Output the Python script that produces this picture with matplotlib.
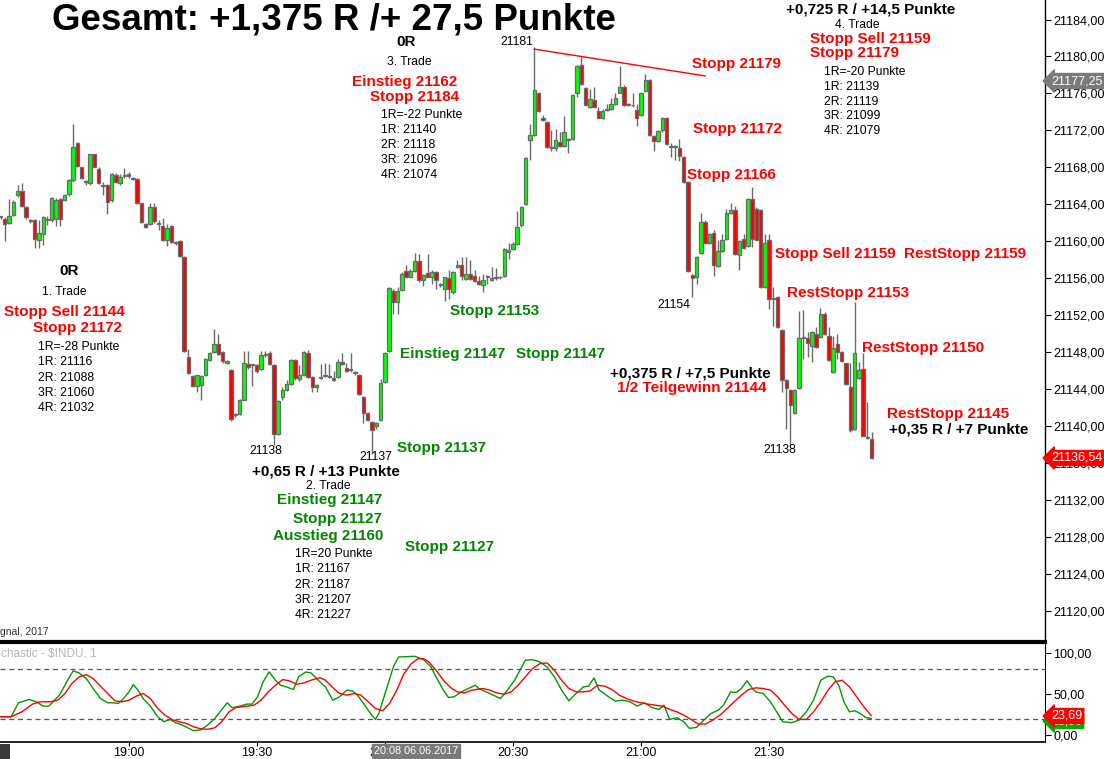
import matplotlib.pyplot as plt
from matplotlib.patches import Rectangle
import numpy as np

plt.rcParams['font.family'] = ['Liberation Sans', 'DejaVu Sans']

W, H = 1104, 759

# 1-Minuten-Kerzen $INDU ab 18:30 (Bar-Index 0)
opens = [21162.6, 21162.4, 21162.0, 21162.9, 21165.0, 21165.4, 21163.7, 21162.2, 21162.3, 21160.2,
         21160.8, 21162.3, 21162.3, 21162.4, 21164.6, 21164.5, 21165.1, 21166.6, 21170.6, 21168.0,
         21166.4, 21166.3, 21169.4, 21167.8, 21166.1, 21166.1, 21164.5, 21167.2, 21166.3, 21167.1,
         21167.3, 21166.8, 21166.7, 21164.1, 21161.9, 21161.9, 21163.7, 21161.9, 21161.7, 21160.1,
         21161.7, 21159.8, 21160.0, 21158.3, 21147.5, 21145.4, 21144.4, 21144.5, 21145.5, 21147.2,
         21148.0, 21148.9, 21148.0, 21146.9, 21146.1, 21141.2, 21141.3, 21142.9, 21146.7, 21146.6,
         21146.6, 21146.2, 21147.7, 21147.9, 21146.6, 21139.2, 21143.2, 21143.9, 21144.6, 21147.2,
         21145.1, 21145.5, 21147.9, 21145.3, 21144.2, 21145.2, 21145.4, 21145.3, 21145.2, 21145.3,
         21147.0, 21146.3, 21146.1, 21145.8, 21145.6, 21143.2, 21141.4, 21140.5, 21140.0, 21140.7,
         21144.8, 21148.2, 21154.6, 21153.5, 21154.7, 21156.8, 21156.2, 21156.8, 21157.9, 21155.8,
         21156.6, 21156.2, 21156.7, 21155.3, 21154.8, 21156.0, 21154.5, 21157.2, 21157.4, 21155.9,
         21156.5, 21156.3, 21155.7, 21155.3, 21156.1, 21155.8, 21156.0, 21156.1, 21156.3, 21158.8,
         21159.2, 21159.7, 21161.8, 21164.0, 21171.0, 21171.5, 21176.1, 21173.4, 21172.9, 21170.1,
         21170.1, 21170.8, 21170.3, 21171.0, 21171.1, 21176.0, 21179.1, 21176.6, 21174.5, 21175.3,
         21174.1, 21173.3, 21174.2, 21174.3, 21174.9, 21176.1, 21176.7, 21174.8, 21174.7, 21174.2,
         21173.7, 21176.3, 21177.5, 21171.4, 21170.9, 21172.0, 21173.4, 21170.3, 21170.2, 21170.1,
         21169.1, 21166.4, 21156.4, 21156.2, 21158.7, 21162.1, 21159.8, 21160.9, 21157.3, 21159.0,
         21160.3, 21163.1, 21163.4, 21158.5, 21160.3, 21159.5, 21164.6, 21163.5, 21163.4, 21155.1,
         21160.2, 21153.8, 21154.0, 21150.4, 21145.0, 21143.9, 21141.4, 21144.1, 21149.6, 21149.6,
         21148.7, 21150.0, 21149.7, 21152.1, 21149.8, 21145.9, 21148.9, 21148.0, 21146.8, 21144.3,
         21139.7, 21145.2, 21146.2, 21138.8, 21138.6]
highs = [21162.8, 21162.6, 21164.6, 21164.5, 21166.1, 21166.3, 21163.8, 21162.4, 21162.4, 21162.3,
         21162.7, 21162.7, 21164.8, 21164.7, 21164.7, 21165.1, 21166.7, 21172.7, 21170.8, 21168.1,
         21166.6, 21169.5, 21169.5, 21168.0, 21166.4, 21166.2, 21167.4, 21167.4, 21167.3, 21167.9,
         21167.5, 21167.0, 21166.9, 21164.2, 21162.0, 21164.1, 21164.1, 21162.3, 21162.5, 21161.9,
         21161.8, 21160.0, 21160.2, 21158.4, 21148.4, 21145.5, 21145.6, 21145.5, 21147.4, 21148.0,
         21150.5, 21150.0, 21148.2, 21147.2, 21146.2, 21141.4, 21143.0, 21148.2, 21148.2, 21146.7,
         21146.7, 21148.2, 21148.2, 21148.2, 21146.7, 21142.8, 21144.2, 21145.0, 21147.3, 21147.3,
         21146.6, 21148.1, 21148.3, 21145.4, 21144.6, 21146.7, 21146.8, 21146.7, 21146.0, 21147.3,
         21147.9, 21146.8, 21147.9, 21146.0, 21145.7, 21143.3, 21141.5, 21140.6, 21140.5, 21145.1,
         21148.0, 21155.1, 21154.9, 21155.1, 21156.7, 21157.4, 21157.0, 21158.7, 21158.6, 21156.5,
         21158.6, 21156.9, 21156.8, 21155.5, 21156.2, 21156.9, 21156.8, 21158.0, 21158.3, 21158.3,
         21158.0, 21156.9, 21156.3, 21156.5, 21156.4, 21157.2, 21157.1, 21156.3, 21159.3, 21159.8,
         21159.9, 21163.3, 21163.8, 21169.1, 21172.7, 21181.0, 21176.2, 21173.7, 21173.0, 21172.0,
         21172.2, 21171.8, 21173.6, 21171.2, 21175.9, 21179.1, 21180.0, 21176.7, 21176.5, 21176.7,
         21174.5, 21174.3, 21174.9, 21175.5, 21176.0, 21179.0, 21176.9, 21175.0, 21176.0, 21174.9,
         21176.2, 21178.1, 21177.6, 21171.5, 21172.0, 21173.5, 21173.5, 21170.6, 21170.4, 21171.1,
         21169.2, 21166.5, 21156.5, 21158.4, 21163.1, 21162.3, 21160.9, 21161.2, 21160.1, 21160.8,
         21163.5, 21164.1, 21163.8, 21160.1, 21160.8, 21164.7, 21165.9, 21163.7, 21163.5, 21160.8,
         21160.8, 21155.1, 21154.1, 21150.5, 21145.1, 21144.0, 21144.0, 21152.5, 21152.6, 21150.2,
         21150.3, 21150.7, 21152.8, 21152.4, 21150.7, 21149.8, 21150.0, 21148.1, 21146.9, 21146.8,
         21153.4, 21147.0, 21147.9, 21142.6, 21139.4]
lows = [21162.4, 21160.0, 21161.9, 21162.8, 21164.8, 21163.7, 21162.4, 21162.0, 21159.3, 21159.3,
        21159.6, 21161.8, 21162.1, 21161.7, 21161.7, 21164.4, 21164.9, 21166.4, 21168.0, 21166.8,
        21166.1, 21166.1, 21168.0, 21166.2, 21165.0, 21163.0, 21164.3, 21166.3, 21166.1, 21166.9,
        21166.9, 21166.6, 21164.0, 21162.0, 21161.4, 21161.8, 21162.0, 21161.2, 21160.0, 21159.5,
        21159.8, 21159.6, 21158.3, 21148.0, 21145.7, 21144.3, 21143.7, 21142.8, 21145.4, 21147.1,
        21147.9, 21147.7, 21146.9, 21146.7, 21140.6, 21141.0, 21141.2, 21142.8, 21146.2, 21144.4,
        21145.8, 21146.1, 21147.5, 21146.6, 21138.0, 21139.1, 21142.8, 21143.8, 21144.5, 21145.0,
        21144.9, 21145.4, 21145.2, 21143.7, 21143.7, 21145.1, 21145.3, 21145.2, 21144.9, 21145.2,
        21146.6, 21145.9, 21145.9, 21145.6, 21143.4, 21140.4, 21140.6, 21137.0, 21139.7, 21140.6,
        21144.7, 21148.0, 21152.2, 21152.2, 21154.6, 21156.1, 21156.1, 21156.7, 21155.6, 21155.2,
        21156.1, 21155.4, 21154.9, 21155.1, 21153.6, 21153.8, 21154.3, 21157.1, 21155.8, 21155.8,
        21155.8, 21155.6, 21155.3, 21154.5, 21155.4, 21155.7, 21155.8, 21155.9, 21156.2, 21158.1,
        21159.1, 21159.6, 21161.6, 21163.9, 21168.8, 21171.4, 21174.0, 21173.0, 21170.1, 21169.8,
        21169.8, 21170.2, 21170.2, 21169.6, 21171.0, 21175.6, 21176.9, 21174.7, 21174.4, 21174.4,
        21173.3, 21173.2, 21174.1, 21174.2, 21174.8, 21176.0, 21174.6, 21174.6, 21174.5, 21172.5,
        21173.6, 21176.2, 21171.4, 21169.8, 21170.8, 21171.8, 21170.4, 21169.1, 21168.8, 21168.7,
        21166.3, 21156.7, 21154.0, 21155.4, 21158.6, 21159.7, 21159.7, 21156.3, 21157.2, 21158.9,
        21160.2, 21163.0, 21158.5, 21156.9, 21159.2, 21159.4, 21159.4, 21160.1, 21155.0, 21155.0,
        21152.7, 21150.9, 21150.6, 21143.7, 21139.7, 21138.0, 21141.3, 21144.0, 21147.3, 21147.5,
        21147.0, 21148.5, 21149.6, 21149.9, 21147.1, 21145.8, 21147.3, 21147.0, 21144.5, 21139.4,
        21139.6, 21145.1, 21138.9, 21138.6, 21136.5]
closes = [21162.6, 21161.9, 21162.8, 21164.3, 21165.5, 21163.8, 21162.6, 21162.2, 21160.3, 21160.9,
          21162.6, 21162.3, 21164.7, 21164.5, 21162.4, 21165.0, 21166.6, 21170.2, 21168.2, 21166.9,
          21166.4, 21169.4, 21168.1, 21166.3, 21166.0, 21164.3, 21167.3, 21166.4, 21167.0, 21167.1,
          21167.1, 21166.8, 21164.1, 21162.1, 21161.6, 21163.7, 21162.2, 21161.9, 21160.1, 21161.5,
          21159.9, 21159.8, 21158.4, 21148.2, 21145.8, 21144.4, 21145.5, 21145.4, 21147.3, 21147.9,
          21148.9, 21147.8, 21147.1, 21147.1, 21140.8, 21141.2, 21142.9, 21146.8, 21146.4, 21146.6,
          21146.0, 21147.7, 21147.7, 21146.7, 21139.2, 21142.7, 21143.9, 21144.6, 21147.2, 21145.2,
          21145.5, 21148.0, 21145.3, 21144.3, 21144.5, 21145.3, 21145.4, 21145.3, 21145.0, 21147.0,
          21146.7, 21146.0, 21146.1, 21145.8, 21143.5, 21141.4, 21140.7, 21139.6, 21140.4, 21144.7,
          21147.9, 21155.0, 21153.5, 21154.6, 21156.5, 21156.2, 21156.8, 21157.9, 21155.8, 21156.4,
          21156.2, 21156.7, 21155.8, 21155.3, 21156.1, 21154.8, 21156.7, 21157.4, 21156.3, 21156.5,
          21155.9, 21155.7, 21155.4, 21155.8, 21156.3, 21156.0, 21156.0, 21156.1, 21159.2, 21159.1,
          21159.7, 21161.6, 21163.7, 21169.0, 21171.5, 21176.4, 21174.1, 21173.1, 21170.2, 21170.1,
          21171.0, 21170.3, 21171.8, 21171.0, 21175.8, 21179.0, 21177.0, 21174.8, 21175.4, 21174.5,
          21173.4, 21174.1, 21174.3, 21174.9, 21175.5, 21176.7, 21174.7, 21174.8, 21174.7, 21173.3,
          21176.1, 21177.5, 21171.5, 21170.9, 21171.9, 21173.4, 21170.5, 21170.2, 21170.2, 21169.2,
          21166.4, 21156.8, 21156.0, 21158.3, 21162.1, 21159.8, 21160.8, 21157.4, 21159.0, 21160.1,
          21163.1, 21163.4, 21158.6, 21160.0, 21159.3, 21164.6, 21160.3, 21160.2, 21155.1, 21159.8,
          21153.8, 21153.8, 21150.7, 21145.0, 21144.1, 21142.3, 21143.9, 21149.6, 21149.7, 21149.0,
          21150.2, 21148.6, 21152.2, 21150.0, 21147.2, 21148.5, 21148.0, 21147.1, 21144.6, 21139.6,
          21147.9, 21146.1, 21139.0, 21138.7, 21136.54]

time_ticks = [30, 60, 90, 120, 150, 180]
time_labels = ['19:00', '19:30', '20:00', '20:30', '21:00', '21:30']
price_ticks = list(range(21120, 21185, 4))

# Trendlinie ab Hoch 21181
trend_bars = [125, 165]
trend_prices = [21180.8, 21177.9]

# Stochastik %K (gruen) und %D (rot) (Bar, Wert)
k_bars = [0, 2.5, 4.2, 6.7, 8.4, 10.0, 11.3, 12.5, 13.8, 15.5,
          17.0, 18.4, 20.1, 21.7, 23.4, 25.1, 26.3, 27.6, 28.8, 30.1,
          31.1, 32.2, 33.4, 35.1, 36.8, 38.3, 39.7, 41.0, 42.6, 45.2,
          46.8, 48.5, 50.2, 51.7, 53.1, 54.3, 56.0, 57.7, 58.9, 60.2,
          61.5, 62.9, 64.4, 65.6, 66.9, 68.6, 69.8, 71.5, 72.7, 74.4,
          76.1, 77.8, 79.4, 81.1, 82.4, 83.6, 85.3, 86.9, 87.8, 88.6,
          90.3, 92.0, 93.2, 97.0, 99.1, 100.8, 102.0, 103.7, 104.9, 106.2,
          107.9, 111.2, 112.0, 113.7, 116.2, 117.1, 118.7, 120.4, 122.9, 124.6,
          126.3, 128.0, 129.7, 131.4, 133.1, 134.8, 136.5, 137.7, 139.0, 140.2,
          142.4, 144.0, 145.7, 147.4, 149.1, 150.8, 152.5, 154.2, 155.4, 156.7,
          158.4, 160.0, 161.3, 163.0, 164.7, 166.4, 168.1, 169.3, 171.0, 172.3,
          173.5, 174.8, 176.1, 176.9, 178.6, 180.3, 182.0, 183.2, 185.3, 187.0,
          188.7, 190.4, 192.1, 193.7, 195.0, 196.3, 197.5, 198.8, 200.1, 201.3,
          202.6, 203.9]
k_vals = [22.3, 22.3, 39.3, 43.3, 40.5, 35.2, 35.2, 41.7, 48.6, 64.8,
          78.1, 75.7, 68.8, 56.7, 44.5, 39.3, 39.3, 38.5, 44.5, 52.6,
          61.5, 54.7, 44.5, 35.2, 22.3, 16.2, 19.0, 15.0, 12.1, 5.3,
          6.1, 12.1, 20.2, 30.4, 39.3, 33.2, 35.2, 37.7, 37.7, 46.6,
          64.8, 76.9, 66.8, 60.7, 58.7, 55.5, 70.9, 76.9, 75.7, 66.8,
          58.7, 42.5, 46.6, 54.7, 53.8, 48.6, 36.4, 24.3, 19.0, 26.3,
          54.7, 83.0, 95.1, 96.0, 91.9, 83.0, 70.9, 54.7, 45.7, 46.6,
          52.6, 60.7, 56.7, 52.6, 46.6, 44.5, 54.7, 66.8, 91.1, 91.9,
          89.1, 83.0, 70.9, 54.7, 41.7, 50.6, 58.7, 59.5, 69.6, 54.7,
          46.6, 41.3, 42.5, 40.5, 35.2, 39.3, 33.6, 31.2, 36.4, 19.0,
          21.1, 16.2, 8.1, 9.3, 18.2, 26.3, 30.4, 36.4, 52.6, 51.8,
          56.7, 66.0, 56.7, 52.6, 50.6, 40.5, 26.3, 16.2, 15.0, 18.2,
          28.3, 42.5, 66.8, 71.7, 70.9, 60.7, 40.5, 28.3, 29.6, 26.3,
          21.5, 20.2]
d_bars = [0, 2.5, 5.0, 7.5, 9.2, 11.7, 13.4, 15.1, 16.7, 18.4,
          20.1, 21.7, 23.4, 25.1, 26.8, 28.4, 30.1, 31.8, 33.4, 35.1,
          36.8, 38.5, 40.1, 41.8, 43.5, 45.2, 46.8, 48.5, 50.2, 51.8,
          53.5, 55.2, 57.7, 59.4, 61.0, 62.7, 64.4, 66.1, 67.7, 69.4,
          71.1, 72.7, 74.8, 76.1, 77.8, 79.4, 81.1, 82.8, 84.4, 86.1,
          87.8, 89.5, 91.1, 92.8, 94.5, 96.2, 97.8, 99.1, 100.3, 102.0,
          103.7, 105.4, 107.0, 108.7, 110.4, 112.9, 114.6, 116.2, 117.9, 119.6,
          121.2, 122.9, 124.6, 126.3, 128.0, 129.7, 131.4, 133.1, 134.8, 136.5,
          138.1, 139.8, 141.5, 143.2, 144.9, 146.6, 148.3, 150.0, 151.6, 153.3,
          155.0, 156.7, 158.4, 160.0, 161.7, 163.4, 165.1, 166.8, 168.5, 170.2,
          171.8, 173.5, 175.2, 176.9, 178.6, 180.3, 182.0, 183.6, 185.3, 187.0,
          188.7, 190.4, 192.1, 193.8, 195.4, 197.1, 198.8, 200.5, 202.2, 203.9]
d_vals = [22.3, 22.3, 28.3, 37.7, 40.5, 40.5, 42.5, 50.6, 62.8, 70.9,
          73.7, 68.8, 59.5, 50.6, 41.7, 40.5, 42.5, 47.4, 50.6, 44.5,
          32.4, 24.3, 19.0, 16.2, 14.2, 10.1, 7.7, 6.9, 8.9, 16.2,
          28.3, 33.6, 35.2, 36.4, 42.5, 52.6, 60.7, 67.6, 66.0, 61.9,
          63.6, 66.8, 70.0, 66.8, 57.9, 50.6, 48.6, 50.6, 48.6, 40.5,
          32.4, 29.6, 38.5, 54.7, 74.9, 87.0, 93.1, 93.1, 89.1, 78.9,
          66.8, 57.9, 52.6, 51.4, 54.7, 56.7, 54.7, 51.4, 49.8, 52.6,
          60.7, 70.9, 81.0, 87.0, 87.9, 78.9, 66.8, 56.7, 52.6, 52.6,
          53.8, 60.7, 59.5, 55.5, 48.6, 44.5, 41.3, 39.3, 37.7, 36.4,
          35.2, 31.2, 28.3, 24.3, 19.0, 13.4, 13.4, 18.2, 24.3, 32.4,
          40.5, 48.6, 55.5, 57.5, 56.7, 54.7, 46.6, 36.4, 26.3, 19.0,
          19.0, 28.3, 40.5, 54.7, 64.8, 66.8, 58.7, 46.6, 34.4, 23.7]

RED = '#ff0000'
GREEN_TXT = '#008800'

fig = plt.figure(figsize=(W / 100, H / 100), dpi=100)
fig.patch.set_facecolor('white')


def fx(x):
    return x / W


def fy(y):
    return 1 - y / H


# Hauptchart
ax = fig.add_axes([0, fy(641), fx(1045), 641 / H])
o, h, l, c = map(np.array, (opens, highs, lows, closes))
x = np.arange(len(o))
up = c >= o
ax.vlines(x, l, h, color='#6a6a6a', lw=1, zorder=1)
ax.bar(x, np.maximum(np.abs(c - o), 0.1), bottom=np.minimum(o, c), width=0.8,
       color=np.where(up, '#00ff00', RED), edgecolor='#6a6a6a', lw=0.9, zorder=2)
ax.plot(trend_bars, trend_prices, color=RED, lw=1, zorder=3)

ax.set_xlim(-0.12, 244.6)
ax.set_ylim(21116.78, 21186.11)
ax.set_xticks([])
ax.yaxis.tick_right()
ax.set_yticks(price_ticks)
ax.set_yticklabels([f'{p},00' for p in price_ticks])
ax.tick_params(axis='y', direction='out', length=4, pad=2, labelsize=9)
for s in ('left', 'top', 'bottom'):
    ax.spines[s].set_visible(False)
ax.spines['right'].set_linewidth(1)

# Stochastik
ax2 = fig.add_axes([0, fy(742), fx(1045), 100 / H])
ax2.plot(k_bars, k_vals, color='#009900', lw=1)
ax2.plot(d_bars, d_vals, color=RED, lw=1)
for lvl in (80, 20):
    ax2.axhline(lvl, color='#555555', lw=0.9, ls=(0, (4, 3)))
ax2.set_xlim(-0.12, 244.6)
ax2.set_ylim(-8.5, 113.4)
ax2.yaxis.tick_right()
ax2.set_yticks([0, 50, 100])
ax2.set_yticklabels(['0,00', '50,00', '100,00'])
ax2.set_xticks(time_ticks)
ax2.set_xticklabels(time_labels)
ax2.tick_params(axis='y', direction='out', length=4, pad=2, labelsize=9)
ax2.tick_params(axis='x', direction='out', length=3, pad=0.5, labelsize=9)
ax2.spines['left'].set_visible(False)
ax2.spines['top'].set_linewidth(3)
ax2.spines['bottom'].set_linewidth(1.2)


def label(x, y, s, color='black', size=11, bold=True, ha='left'):
    fig.text(fx(x), fy(y), s, color=color, fontsize=size,
             fontweight='bold' if bold else 'normal', ha=ha, va='center')


def small(x, y, s, ha='left'):
    label(x, y, s, size=8.7, bold=False, ha=ha)


label(52, 20, 'Gesamt: +1,375 R /+ 27,5 Punkte', size=26.5)

# 1. Trade
label(69, 271, '0R', ha='center')
small(64, 292, '1. Trade', ha='center')
label(4, 312, 'Stopp Sell 21144', RED)
label(33, 328, 'Stopp 21172', RED)
for i, s in enumerate(['1R=-28 Punkte', '1R: 21116', '2R: 21088', '3R: 21060', '4R: 21032']):
    small(38, 347 + i * 15.3, s)

# 2. Trade
small(266, 451, '21138', ha='center')
small(376, 457, '21137', ha='center')
label(252, 472, '+0,65 R / +13 Punkte')
small(328, 486, '2. Trade', ha='center')
label(277, 500, 'Einstieg 21147', GREEN_TXT)
label(293, 519, 'Stopp 21127', GREEN_TXT)
label(273, 536, 'Ausstieg 21160', GREEN_TXT)
for i, s in enumerate(['1R=20 Punkte', '1R: 21167', '2R: 21187', '3R: 21207', '4R: 21227']):
    small(295, 554 + i * 15.3, s)
label(405, 547, 'Stopp 21127', GREEN_TXT)
label(397, 448, 'Stopp 21137', GREEN_TXT)
label(400, 354, 'Einstieg 21147', GREEN_TXT)
label(516, 354, 'Stopp 21147', GREEN_TXT)
label(450, 311, 'Stopp 21153', GREEN_TXT)

# 3. Trade
label(406, 42, '0R', ha='center')
small(409, 62, '3. Trade', ha='center')
small(517, 42, '21181', ha='center')
label(352, 82, 'Einstieg 21162', RED)
label(370, 97, 'Stopp 21184', RED)
for i, s in enumerate(['1R=-22 Punkte', '1R: 21140', '2R: 21118', '3R: 21096', '4R: 21074']):
    small(381, 115 + i * 15, s)
label(692, 64, 'Stopp 21179', RED)

# 4. Trade
label(786, 10, '+0,725 R / +14,5 Punkte')
small(857, 25, '4. Trade', ha='center')
label(810, 39, 'Stopp Sell 21159', RED)
label(810, 53, 'Stopp 21179', RED)
for i, s in enumerate(['1R=-20 Punkte', '1R: 21139', '2R: 21119', '3R: 21099', '4R: 21079']):
    small(824, 72 + i * 14.8, s)
label(693, 129, 'Stopp 21172', RED)
label(687, 175, 'Stopp 21166', RED)
label(775, 254, 'Stopp Sell 21159', RED)
label(904, 254, 'RestStopp 21159', RED)
label(787, 293, 'RestStopp 21153', RED)
small(674, 305, '21154', ha='center')
label(862, 348, 'RestStopp 21150', RED)
label(610, 373, '+0,375 R / +7,5 Punkte')
label(617, 388, '1/2 Teilgewinn 21144', RED)
small(780, 450, '21138', ha='center')
label(887, 414, 'RestStopp 21145', RED)
label(889, 430, '+0,35 R / +7 Punkte')

# Beschriftungen am Rand
fig.text(fx(0), fy(632), 'gnal, 2017', fontsize=7.5, color='#333333', va='center')
fig.text(fx(1), fy(654), 'chastic - $INDU, 1', fontsize=8.5, color='#b4b4b4', va='center')
fig.text(fx(416), fy(751), '20:08 06.06.2017', fontsize=7.8, color='white', ha='center', va='center',
         bbox=dict(boxstyle='square,pad=0.2', fc='#7a7a7a', ec='#7a7a7a'))


def price_box(y, s, col):
    fig.text(fx(1051), fy(y), s, fontsize=9, color='white', ha='left', va='center',
             bbox=dict(boxstyle='larrow,pad=0.12', fc=col, ec=col))


price_box(81, '21177,25', '#7a7a7a')
price_box(458, '21136,54', RED)
price_box(721, '18,50', '#00aa00')
price_box(716, '23,69', RED)

fig.add_artist(Rectangle((0, 0), fx(10), 15 / H, transform=fig.transFigure,
                         fc='#3a3a3a', ec='none'))

fig.savefig('out.png', dpi=100)
